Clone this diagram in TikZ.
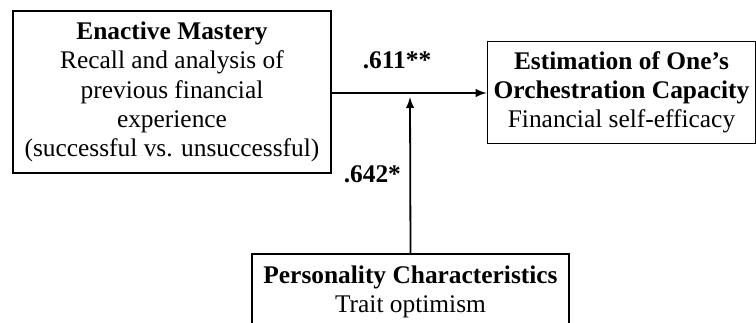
\documentclass[tikz,border=0pt]{standalone}
\usepackage{fontspec}
\setmainfont{Liberation Serif}
\usetikzlibrary{arrows}
\tikzset{factor/.style={draw, line width=0.9pt, align=center, inner sep=0pt,
  font=\fontsize{12.7}{14.6}\selectfont}}
\tikzset{coef/.style={font=\fontsize{12.7}{14.6}\selectfont\bfseries}}

\begin{document}
\begin{tikzpicture}[x=0.5pt,y=-0.5pt]
\clip (0,0) rectangle (756,322);
\useasboundingbox (0,0) rectangle (756,322);
\node[factor, minimum width=159pt, minimum height=81pt] (mastery) at (172,92)
  {\textbf{Enactive Mastery}\\Recall and analysis of\\previous financial\\experience\\(successful vs. unsuccessful)};
\node[factor, minimum width=134pt, minimum height=51pt] (capacity) at (621.5,92.5)
  {\textbf{Estimation of One's}\\\textbf{Orchestration Capacity}\\Financial self-efficacy};
\node[factor, minimum width=158.5pt, inner ysep=6pt, anchor=north] (personality) at (410.5,253)
  {\textbf{Personality Characteristics}\\Trait optimism\\[4pt]};
\coordinate (mod) at (410,97);

\draw[line width=0.9pt, -latex] (mastery.east |- 0,93) -- (capacity.west |- 0,93);
\draw[line width=0.9pt, -latex] (personality.north) -- (mod);
\node[coef] (b1) at (397,60) {.611**};
\node[coef, anchor=east] (b2) at (408,174) {.642*};
\end{tikzpicture}
\end{document}
